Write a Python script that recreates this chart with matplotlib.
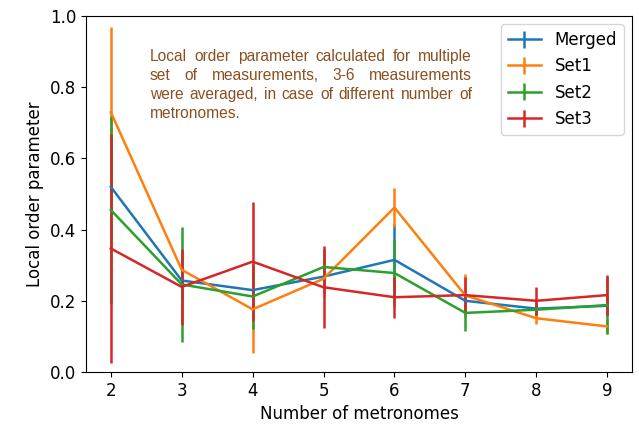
import matplotlib
matplotlib.use("Agg")
import matplotlib.pyplot as plt

x = [2, 3, 4, 5, 6, 7, 8, 9]
merged = [0.52, 0.257, 0.23, 0.268, 0.315, 0.20, 0.178, 0.186]
merged_err = [0.15, 0.05, 0.05, 0.05, 0.10, 0.03, 0.02, 0.03]
set1 = [0.73, 0.287, 0.176, 0.262, 0.462, 0.215, 0.151, 0.128]
set1_err = [0.24, 0.05, 0.122, 0.05, 0.055, 0.06, 0.015, 0.02]
set2 = [0.455, 0.246, 0.212, 0.295, 0.278, 0.166, 0.175, 0.188]
set2_err = [0.265, 0.162, 0.09, 0.05, 0.093, 0.05, 0.015, 0.08]
set3 = [0.347, 0.239, 0.31, 0.238, 0.21, 0.216, 0.2, 0.216]
set3_err = [0.322, 0.107, 0.167, 0.115, 0.057, 0.05, 0.04, 0.056]
labels = ["Merged", "Set1", "Set2", "Set3"]

note_lines = [
    "Local order parameter calculated for multiple",
    "set of measurements, 3-6 measurements",
    "were averaged, in case of different number of",
    "metronomes.",
]

plt.rcParams["font.size"] = 12
fig = plt.figure(figsize=(6.39, 4.26), dpi=100)
ax = fig.add_axes([86 / 639, 1 - 372 / 426, (632 - 86) / 639, (372 - 16) / 426])

for vals, errs, lab in zip([merged, set1, set2, set3],
                           [merged_err, set1_err, set2_err, set3_err], labels):
    ax.errorbar(x, vals, yerr=errs, label=lab, linewidth=1.8, elinewidth=1.8)

ax.set_ylim(0, 1.0)
ax.set_xlabel("Number of metronomes")
ax.set_ylabel("Local order parameter")
ax.legend(loc="upper right")

# justified annotation text
color = "#8a5020"
fs = 11.2
x0, x1 = 150, 472  # pixel bounds of the text block
ybase = 61
dy = 19
renderer = fig.canvas.get_renderer()
for i, line in enumerate(note_lines):
    ypix = 426 - (ybase + i * dy)
    words = line.split(" ")
    if i == len(note_lines) - 1:
        fig.text(x0 / 639, ypix / 426, line, fontsize=fs, color=color,
                 family="Liberation Sans", va="baseline")
        continue
    objs = [fig.text(0, ypix / 426, w, fontsize=fs, color=color,
                     family="Liberation Sans", va="baseline") for w in words]
    widths = [o.get_window_extent(renderer).width for o in objs]
    gap = (x1 - x0 - sum(widths)) / (len(words) - 1)
    pos = x0
    for o, w in zip(objs, widths):
        o.set_x(pos / 639)
        pos += w + gap

fig.savefig("out.png", dpi=100)
